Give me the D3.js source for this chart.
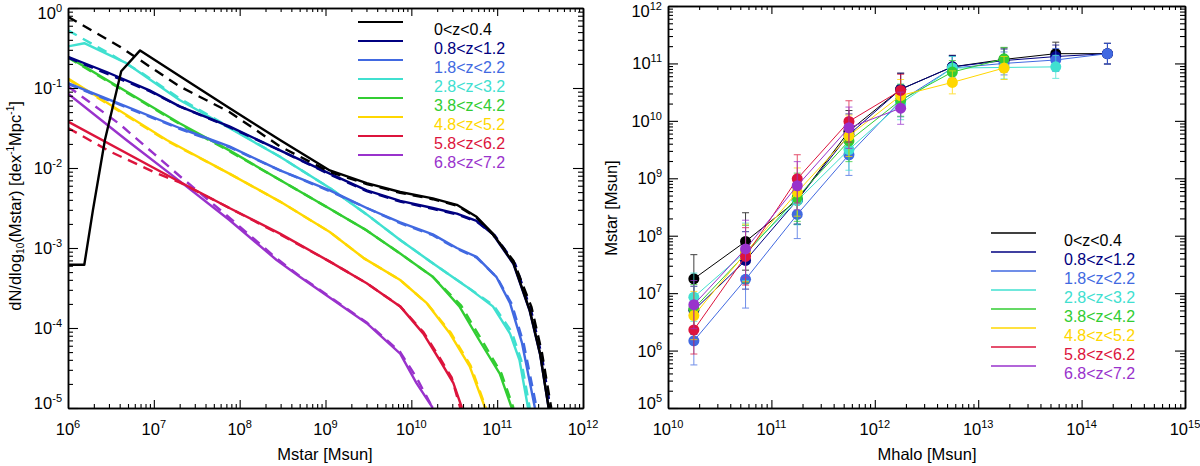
<!DOCTYPE html>
<html>
<head>
<meta charset="utf-8">
<script src="https://cdn.jsdelivr.net/npm/d3@7"></script>
<style>
  body { margin: 0; background: #fff; }
  svg { display: block; font-family: 'Liberation Sans', Arial, Helvetica, sans-serif; }
</style>
</head>
<body>
<svg id="chart" width="1200" height="466"></svg>
<script>
const zLabels = ['0<z<0.4', '0.8<z<1.2', '1.8<z<2.2', '2.8<z<3.2', '3.8<z<4.2', '4.8<z<5.2', '5.8<z<6.2', '6.8<z<7.2']
const zColors = ['#000000', '#000080', '#4169e1', '#40e0d0', '#32cd32', '#ffd700', '#dc143c', '#9932cc']

// left panel, [log10 Mstar, log10 dN/dlogMstar]
const smfSolid = [
  [[6.0,-3.21],[6.19,-3.21],[6.29,-2.53],[6.43,-1.65],[6.62,-0.79],[6.84,-0.53],[7.30,-0.85],[7.88,-1.25],[8.47,-1.65],[9.05,-2.03],[9.48,-2.19],[9.87,-2.30],[10.25,-2.38],[10.53,-2.46],[10.76,-2.61],[10.95,-2.82],[11.19,-3.19],[11.38,-3.78],[11.50,-4.32],[11.60,-5.0]],
  [[6.0,-0.61],[6.45,-0.80],[6.95,-1.03],[7.30,-1.23],[7.88,-1.48],[8.47,-1.78],[9.05,-2.07],[9.48,-2.28],[9.87,-2.41],[10.25,-2.50],[10.53,-2.57],[10.76,-2.66],[10.95,-2.83],[11.19,-3.20],[11.38,-3.79],[11.50,-4.33],[11.60,-5.0]],
  [[6.0,-0.94],[6.56,-1.18],[7.30,-1.50],[7.88,-1.73],[8.47,-2.03],[9.05,-2.28],[9.48,-2.50],[9.87,-2.68],[10.25,-2.83],[10.53,-3.0],[10.76,-3.11],[10.99,-3.36],[11.15,-3.69],[11.29,-4.19],[11.44,-5.0]],
  [[6.0,-0.48],[6.19,-0.44],[6.68,-0.69],[7.30,-1.15],[7.88,-1.50],[8.47,-1.86],[9.05,-2.25],[9.48,-2.58],[9.87,-2.90],[10.25,-3.19],[10.64,-3.48],[10.95,-3.73],[11.15,-4.07],[11.26,-4.40],[11.36,-5.0]],
  [[6.0,-0.61],[7.30,-1.44],[7.88,-1.78],[8.47,-2.15],[9.05,-2.51],[9.48,-2.78],[9.87,-3.07],[10.25,-3.36],[10.56,-3.73],[10.79,-4.15],[11.03,-4.57],[11.17,-5.0]],
  [[6.0,-0.88],[7.15,-1.65],[7.88,-2.07],[8.47,-2.42],[9.05,-2.80],[9.45,-3.13],[9.87,-3.40],[10.18,-3.69],[10.45,-4.07],[10.68,-4.48],[10.86,-5.0]],
  [[6.0,-1.42],[7.26,-2.15],[7.88,-2.50],[8.47,-2.82],[9.05,-3.17],[9.48,-3.44],[9.87,-3.73],[10.14,-4.07],[10.33,-4.40],[10.49,-4.69],[10.59,-5.0]],
  [[6.0,-1.07],[6.68,-1.65],[7.26,-2.13],[7.88,-2.65],[8.43,-3.15],[8.70,-3.36],[9.09,-3.65],[9.48,-3.94],[9.87,-4.32],[10.06,-4.69],[10.25,-5.0]]
]
const smfDashed = [
  [[6.0,-0.11],[6.60,-0.48],[7.30,-0.98],[7.88,-1.30],[8.47,-1.73],[9.05,-2.05],[9.48,-2.20],[9.87,-2.31],[10.25,-2.39],[10.53,-2.47],[10.76,-2.62],[10.95,-2.83],[11.19,-3.16],[11.40,-3.74],[11.52,-4.30],[11.63,-5.0]],
  [[6.0,-0.62],[6.95,-1.04],[7.30,-1.23],[7.88,-1.49],[8.47,-1.78],[9.05,-2.08],[9.48,-2.29],[9.87,-2.42],[10.25,-2.51],[10.53,-2.58],[10.76,-2.67],[10.97,-2.84],[11.21,-3.20],[11.40,-3.80],[11.52,-4.35],[11.62,-5.0]],
  [[6.0,-0.95],[7.30,-1.51],[7.88,-1.74],[8.47,-2.03],[9.05,-2.29],[9.48,-2.50],[9.87,-2.69],[10.25,-2.84],[10.53,-3.01],[10.76,-3.12],[11.0,-3.37],[11.17,-3.70],[11.31,-4.20],[11.46,-5.0]],
  [[6.0,-0.28],[6.5,-0.58],[6.87,-0.82],[7.30,-1.13],[7.88,-1.49],[8.47,-1.86],[9.05,-2.25],[9.48,-2.58],[9.87,-2.90],[10.25,-3.19],[10.64,-3.48],[10.96,-3.72],[11.17,-4.05],[11.28,-4.40],[11.38,-5.0]],
  [[6.0,-0.62],[7.30,-1.45],[7.88,-1.79],[8.47,-2.15],[9.05,-2.51],[9.48,-2.78],[9.87,-3.07],[10.25,-3.36],[10.58,-3.72],[10.82,-4.15],[11.05,-4.57],[11.19,-5.0]],
  [[6.0,-0.89],[7.15,-1.66],[7.88,-2.07],[8.47,-2.42],[9.05,-2.80],[9.45,-3.13],[9.87,-3.40],[10.18,-3.69],[10.46,-4.06],[10.69,-4.47],[10.87,-5.0]],
  [[6.0,-1.50],[6.5,-1.80],[7.0,-2.05],[7.30,-2.18],[7.88,-2.50],[8.47,-2.83],[9.05,-3.17],[9.48,-3.44],[9.87,-3.73],[10.14,-4.05],[10.33,-4.37],[10.47,-4.62],[10.57,-5.0]],
  [[6.0,-0.98],[6.6,-1.45],[7.0,-1.82],[7.30,-2.10],[7.88,-2.62],[8.43,-3.13],[8.70,-3.35],[9.09,-3.64],[9.48,-3.93],[9.87,-4.30],[10.06,-4.62],[10.20,-4.90],[10.25,-5.0]]
]

// right panel, log10 Mhalo bins and log10 Mstar per redshift
const haloBins = [10.25, 10.75, 11.25, 11.75, 12.25, 12.75, 13.25, 13.75, 14.25]
const mstarMean = [
  [7.25, 7.90, 8.62, 9.82, 10.55, 10.94, 11.07, 11.17, 11.17],
  [6.70, 7.57, 8.62, 9.76, 10.55, 10.94, 11.05, 11.12, 11.17],
  [6.17, 7.24, 8.37, 9.41, 10.35, 10.92, 11.00, 11.06, 11.17],
  [6.93, 7.72, 8.61, 9.50, 10.30, 10.92, 10.93, 10.94],
  [6.73, 7.68, 8.67, 9.65, 10.36, 10.85, 11.08],
  [6.61, 7.70, 8.76, 9.74, 10.44, 10.67, 10.92],
  [6.36, 7.64, 8.99, 9.99, 10.53],
  [6.80, 7.77, 8.87, 9.88, 10.22]
]
const mstarErr = [0.42, 0.5, 0.42, 0.36, 0.28, 0.2, 0.2, 0.2, 0.18]

const svg = d3.select('#chart')
const p10 = v => Math.pow(10, v)

const boxL = { x0: 68, x1: 583, y0: 8, y1: 408 }
const boxR = { x0: 668, x1: 1185, y0: 6, y1: 408 }

const xL = d3.scaleLog().domain([1e6, 1e12]).range([boxL.x0, boxL.x1])
const yL = d3.scaleLog().domain([1e-5, 1]).range([boxL.y1, boxL.y0])
const xR = d3.scaleLog().domain([1e10, 1e15]).range([boxR.x0, boxR.x1])
const yR = d3.scaleLog().domain([1e5, 1e12]).range([boxR.y1, boxR.y0])

function decades(scale) {
  const d = scale.domain().map(Math.log10)
  return d3.range(d[0], d[1] + 1)
}
function minors(scale) {
  const out = []
  decades(scale).slice(0, -1).forEach(k => {
    for (let m = 2; m < 10; m++) out.push(m * p10(k))
  })
  return out
}

function frame(box, x, y) {
  const g = svg.append('g')
  const mk = (axis, vals, len) => axis.tickValues(vals).tickSize(-len).tickSizeOuter(0).tickFormat(() => '')
  const majX = decades(x).map(p10), majY = decades(y).map(p10)
  const sides = [
    [() => d3.axisBottom(x), `translate(0,${box.y1})`, majX, minors(x), 8, 4],
    [() => d3.axisTop(x), `translate(0,${box.y0})`, majX, minors(x), 8, 4],
    [() => d3.axisLeft(y), `translate(${box.x0},0)`, majY, minors(y), 10, 5],
    [() => d3.axisRight(y), `translate(${box.x1},0)`, majY, minors(y), 10, 5]
  ]
  sides.forEach(([ax, tr, maj, min, lm, ln]) => {
    g.append('g').attr('transform', tr).call(mk(ax(), min, ln))
    g.append('g').attr('transform', tr).call(mk(ax(), maj, lm))
  })
  g.selectAll('.domain').attr('stroke', '#000').attr('stroke-width', 1.5)
  g.selectAll('.tick line').attr('stroke', '#000').attr('stroke-width', 1.1)

  // tick labels with superscript exponents
  decades(x).forEach(k => {
    const t = svg.append('text').attr('x', x(p10(k))).attr('y', 435)
      .attr('text-anchor', 'middle').attr('font-size', 16.5)
    t.append('tspan').text('10')
    t.append('tspan').attr('dy', -7).attr('font-size', 11).text(k)
  })
  decades(y).forEach(k => {
    const yy = Math.min(Math.max(y(p10(k)) + 6, box.y0 + 11), box.y1 + 1)
    const t = svg.append('text').attr('x', box.x0 - 6).attr('y', yy)
      .attr('text-anchor', 'end').attr('font-size', 16.5)
    t.append('tspan').text('10')
    t.append('tspan').attr('dy', -7).attr('font-size', 11).text(k)
  })
}

function legend(x0, x1, ty, y0, width) {
  zLabels.forEach((lab, i) => {
    const yy = y0 + i * 19
    svg.append('line').attr('x1', x0).attr('x2', x1).attr('y1', yy).attr('y2', yy)
      .attr('stroke', zColors[i]).attr('stroke-width', width)
    svg.append('text').attr('x', ty).attr('y', yy + 12.5).attr('font-size', 16)
      .attr('fill', zColors[i]).text(lab)
  })
}

// ---------- left panel ----------
svg.append('defs').append('clipPath').attr('id', 'clipL').append('rect')
  .attr('x', boxL.x0).attr('y', boxL.y0).attr('width', boxL.x1 - boxL.x0).attr('height', boxL.y1 - boxL.y0)

const lineL = d3.line().x(d => xL(p10(d[0]))).y(d => yL(p10(d[1])))
const curves = svg.append('g').attr('clip-path', 'url(#clipL)')
d3.range(zLabels.length).reverse().forEach(i => {
  curves.append('path').attr('d', lineL(smfDashed[i])).attr('fill', 'none')
    .attr('stroke', zColors[i]).attr('stroke-width', 2.4).attr('stroke-dasharray', '10,7')
  curves.append('path').attr('d', lineL(smfSolid[i])).attr('fill', 'none')
    .attr('stroke', zColors[i]).attr('stroke-width', 2.4).attr('stroke-linejoin', 'round')
})

frame(boxL, xL, yL)
legend(358, 403, 434, 22, 2)

svg.append('text').attr('x', 325).attr('y', 460).attr('text-anchor', 'middle')
  .attr('font-size', 16.5).text('Mstar [Msun]')

const yt = svg.append('text').attr('transform', 'translate(21,206) rotate(-90)')
  .attr('text-anchor', 'middle').attr('font-size', 16.5)
yt.append('tspan').text('dN/dlog')
yt.append('tspan').attr('font-size', 10).attr('dy', 3).text('10')
yt.append('tspan').attr('dy', -3).text('(Mstar) [dex')
yt.append('tspan').attr('font-size', 10).attr('dy', -7).text('-1')
yt.append('tspan').attr('dy', 7).text('Mpc')
yt.append('tspan').attr('font-size', 10).attr('dy', -7).text('-1')
yt.append('tspan').attr('dy', 7).text(']')

// ---------- right panel ----------
const lineR = d3.line().x(d => xR(p10(d[0]))).y(d => yR(p10(d[1])))
mstarMean.forEach((vals, i) => {
  const pts = vals.map((v, j) => [haloBins[j], v, mstarErr[j]])
  const g = svg.append('g')
  g.append('path').attr('d', lineR(pts)).attr('fill', 'none')
    .attr('stroke', zColors[i]).attr('stroke-width', 1)
  const eb = g.selectAll('.err').data(pts).enter().append('g').attr('class', 'err')
    .attr('stroke', zColors[i]).attr('stroke-width', 1).attr('opacity', 0.75)
  eb.append('line').attr('x1', d => xR(p10(d[0]))).attr('x2', d => xR(p10(d[0])))
    .attr('y1', d => yR(p10(d[1] - d[2]))).attr('y2', d => yR(p10(d[1] + d[2])))
  ;[-1, 1].forEach(s => {
    eb.append('line').attr('x1', d => xR(p10(d[0])) - 3.5).attr('x2', d => xR(p10(d[0])) + 3.5)
      .attr('y1', d => yR(p10(d[1] + s * d[2]))).attr('y2', d => yR(p10(d[1] + s * d[2])))
  })
  g.selectAll('circle').data(pts).enter().append('circle')
    .attr('cx', d => xR(p10(d[0]))).attr('cy', d => yR(p10(d[1])))
    .attr('r', 5.5).attr('fill', zColors[i])
})

frame(boxR, xR, yR)
legend(991, 1036, 1064, 233, 1.3)

svg.append('text').attr('x', 927).attr('y', 460).attr('text-anchor', 'middle')
  .attr('font-size', 16.5).text('Mhalo [Msun]')
svg.append('text').attr('transform', 'translate(617,208) rotate(-90)')
  .attr('text-anchor', 'middle').attr('font-size', 16.5).text('Mstar [Msun]')
</script>
</body>
</html>
